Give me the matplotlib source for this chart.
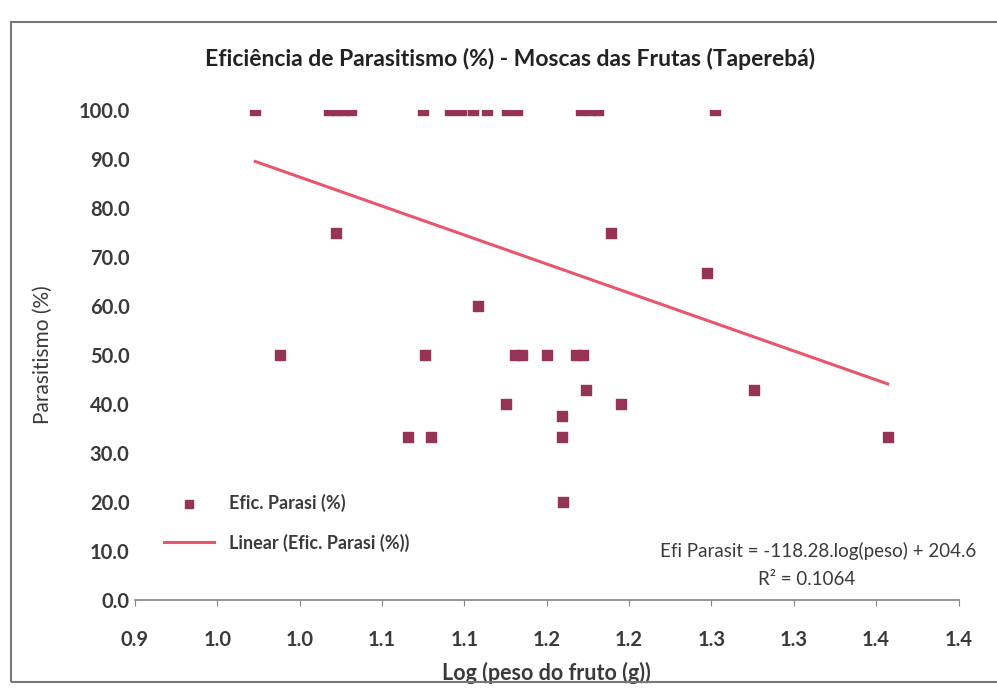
import numpy as np
import matplotlib.pyplot as plt
from matplotlib.patches import Rectangle

plt.rcParams['font.family'] = ['Lato', 'DejaVu Sans']

# Log (peso do fruto) and parasitism efficiency (%)
log_peso = [0.973, 1.018, 1.022, 1.027, 1.031, 1.075, 1.091, 1.098, 1.105, 1.114,
            1.126, 1.132, 1.171, 1.176, 1.181, 1.252,
            1.022, 1.189, 1.247, 1.108, 0.988, 1.076, 1.131, 1.135, 1.150,
            1.168, 1.172, 1.174, 1.125, 1.195, 1.159, 1.159, 1.066, 1.080,
            1.160, 1.276, 1.357]
efic = [100, 100, 100, 100, 100, 100, 100, 100, 100, 100,
        100, 100, 100, 100, 100, 100,
        75.0, 75.0, 66.7, 60.0, 50.0, 50.0, 50.0, 50.0, 50.0,
        50.0, 50.0, 42.9, 40.0, 40.0, 37.5, 33.3, 33.3, 33.3,
        20.0, 42.9, 33.3]

# trendline as printed on the chart
slope, intercept = -118.28, 204.6
r2 = 0.1064

x_ticks = np.arange(0.9, 1.4001, 0.05)
x_ticklabels = ['0.9', '1.0', '1.0', '1.1', '1.1', '1.2', '1.2', '1.3', '1.3', '1.4', '1.4']
y_ticks = np.arange(0, 101, 10)

txt = '#3a3a3a'
marker_col = '#953456'
line_col = '#e8566e'

fig = plt.figure(figsize=(9.97, 6.88), dpi=100)
ax = fig.add_axes([0.1354, 0.128, 0.826, 0.712])

ax.scatter(log_peso, efic, marker='s', s=42, color=marker_col, zorder=3,
           label='Efic. Parasi (%)')
xs = np.array([min(log_peso), max(log_peso)])
ax.plot(xs, slope * xs + intercept, color=line_col, lw=2.2,
        label='Linear (Efic. Parasi (%))')

ax.set_xlim(0.9, 1.4)
ax.set_ylim(0, 100)
ax.set_xticks(x_ticks)
ax.set_xticklabels(x_ticklabels)
ax.set_yticks(y_ticks)
ax.set_yticklabels(['%.1f' % v for v in y_ticks])
ax.tick_params(direction='out', length=4, color='#868686', labelcolor=txt,
               labelsize=14.5)
ax.tick_params(axis='x', pad=18)
ax.tick_params(axis='y', length=0, pad=4)
for lab in ax.get_xticklabels() + ax.get_yticklabels():
    lab.set_fontweight('bold')
for s in ['top', 'right', 'left']:
    ax.spines[s].set_visible(False)
ax.spines['bottom'].set_color('#868686')
ax.spines['bottom'].set_linewidth(1.2)

ax.set_xlabel('Log (peso do fruto (g))', fontsize=15.5, fontweight='bold',
              color=txt, labelpad=8)
ax.set_ylabel('Parasitismo (%)', fontsize=15, color=txt, labelpad=18)
fig.text(0.512, 0.915, 'Eficiência de Parasitismo (%) - Moscas das Frutas (Taperebá)',
         ha='center', va='center', fontsize=16.5, fontweight='bold', color='#222222')

leg = ax.legend(loc='lower left', bbox_to_anchor=(0.015, 0.065), frameon=False,
                fontsize=13, handlelength=2.8, labelspacing=1.2, markerscale=0.85)
for t in leg.get_texts():
    t.set_color(txt)
    t.set_fontweight('bold')

ax.text(1.022, 0.10, 'Efi Parasit = %.2f.log(peso) + %.1f' % (slope, intercept),
        transform=ax.transAxes, ha='right', va='center', fontsize=13.5, color=txt)
ax.text(0.815, 0.042, 'R² = %.4f' % r2, transform=ax.transAxes, ha='center',
        va='center', fontsize=13.5, color=txt)

fig.patches.append(Rectangle((0.011, 0.008), 1.2, 0.96, transform=fig.transFigure,
                             fill=False, edgecolor='#777777', lw=1.5))

fig.savefig('out.png', dpi=100)
